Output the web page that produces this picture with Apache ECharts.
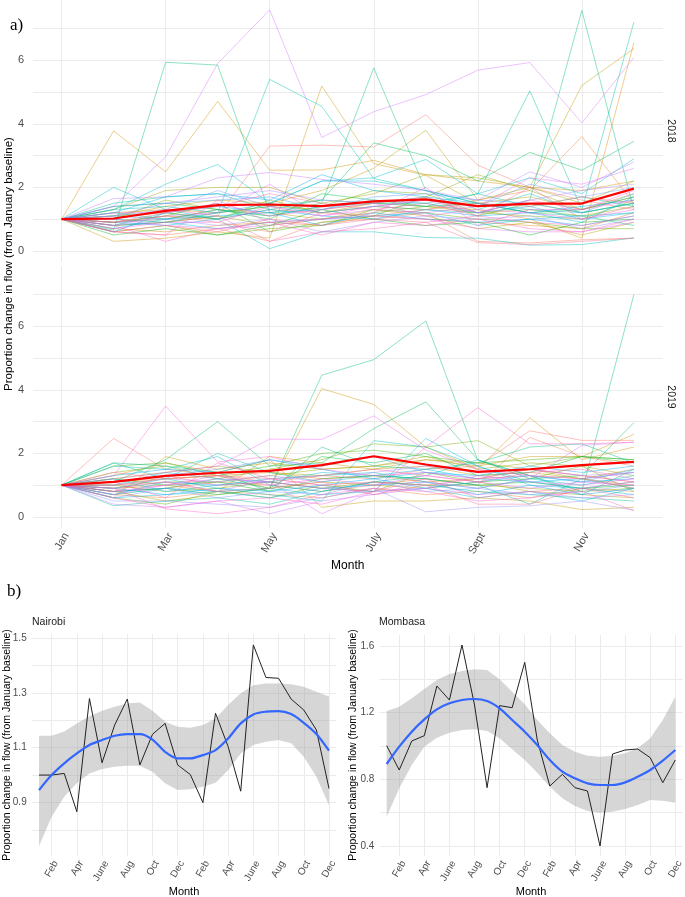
<!DOCTYPE html>
<html><head><meta charset="utf-8">
<script src="https://cdn.jsdelivr.net/npm/echarts@6/dist/echarts.min.js"></script>
<style>html,body{margin:0;padding:0;background:#fff}#c{width:685px;height:897px}</style>
</head><body><div id="c"></div>
<script>
// ---------- data ----------
const monthNames = ['Jan','Feb','Mar','Apr','May','June','July','Aug','Sept','Oct','Nov','Dec'];
const monthIndex = [1,2,3,4,5,6,7,8,9,10,11,12];
const monthTicksA = [1,3,5,7,9,11];
const yTicksA = [0,1,2,3,4,5,6,7];
const yLabelsA = [0,2,4,6];
const years = ['2018','2019'];

const mean2018 = [1.00,1.02,1.26,1.44,1.46,1.41,1.56,1.62,1.41,1.49,1.49,1.96];
const mean2019 = [1.00,1.10,1.29,1.39,1.45,1.63,1.91,1.65,1.42,1.50,1.63,1.73];

const flows2018 = [
 [1,0.8,0.9,1.1,3.3,3.33,3.27,4.29,2.7,2.0,1.6,1.3],
 [1,0.6,0.5,0.7,0.3,0.9,1.0,1.2,0.3,0.25,0.35,0.4],
 [1,0.9,1.1,1.0,1.3,1.2,1.4,1.3,1.6,1.9,3.6,1.5],
 [1,0.7,0.6,0.8,0.9,0.8,1.1,1.0,0.9,0.8,0.7,1.2],
 [1,1.2,1.3,1.2,1.4,1.3,1.5,1.4,1.3,1.0,0.4,6.55],
 [1,3.78,2.49,4.71,2.54,2.55,2.85,2.4,2.2,2.0,1.9,2.2],
 [1,0.3,0.4,0.6,0.4,5.19,2.75,2.38,1.5,1.7,1.3,1.8],
 [1,1.1,1.4,1.6,1.5,1.9,2.6,3.8,1.6,2.0,5.21,6.37],
 [1,0.9,1.0,1.3,1.2,1.0,1.3,1.1,0.7,0.9,0.5,0.9],
 [1,1.3,1.9,2.0,2.0,1.5,1.8,2.4,2.3,2.0,1.5,2.2],
 [1,1.1,1.2,1.0,1.6,1.2,1.5,1.7,2.4,1.9,1.3,1.7],
 [1,0.8,0.9,1.1,0.8,1.0,1.2,1.4,1.2,1.3,1.1,1.4],
 [1,1.0,1.6,1.3,1.1,1.4,1.9,1.8,1.2,1.1,1.0,1.6],
 [1,0.6,0.8,0.5,0.7,0.8,1.3,1.2,1.0,0.9,0.7,0.7],
 [1,0.9,1.1,1.5,0.6,0.9,1.1,1.7,1.1,1.5,1.2,1.5],
 [1,0.5,0.7,0.5,0.8,1.3,1.0,0.8,0.9,0.5,0.9,1.0],
 [1,1.4,1.5,1.3,1.0,1.8,1.6,1.4,1.5,1.2,1.3,1.7],
 [1,1.0,0.9,1.2,1.4,1.6,3.4,3.0,2.2,3.1,2.54,3.45],
 [1,0.65,5.94,5.85,1.2,1.5,5.76,1.9,1.5,1.2,1.1,0.8],
 [1,0.8,1.2,1.0,1.5,1.2,1.4,1.3,1.2,1.6,7.57,1.3],
 [1,1.5,1.7,1.8,1.3,1.6,1.5,1.5,1.8,1.4,1.7,1.4],
 [1,1.2,1.0,1.3,1.1,1.4,1.5,1.4,1.8,5.04,1.3,7.2],
 [1,1.3,1.4,1.2,5.4,4.55,2.28,1.9,1.3,1.8,1.2,1.5],
 [1,2.0,1.3,1.0,0.07,0.6,0.6,0.42,0.4,0.18,0.2,0.41],
 [1,1.3,2.1,2.72,1.5,2.2,2.3,2.88,1.8,2.3,1.8,2.9],
 [1,1.1,1.0,1.2,1.5,2.2,2.2,1.9,1.5,1.3,1.2,1.5],
 [1,0.8,0.9,0.7,0.9,1.0,1.1,1.2,0.8,1.0,1.1,1.2],
 [1,0.7,1.0,1.1,1.2,1.3,1.6,1.5,1.2,1.4,1.0,1.2],
 [1,1.2,1.7,1.8,1.6,2.4,1.9,1.7,1.5,1.2,0.9,1.7],
 [1,0.9,0.8,1.0,1.3,1.1,1.0,1.3,1.1,1.2,1.4,1.6],
 [1,0.6,1.2,1.4,1.2,0.8,1.2,1.0,0.9,1.0,0.8,1.1],
 [1,1.4,1.5,1.6,1.7,1.3,1.7,1.8,1.6,1.5,1.2,1.8],
 [1,1.1,1.3,1.9,1.4,1.2,1.4,1.6,1.4,2.1,1.7,2.0],
 [1,0.9,1.0,0.8,1.0,0.6,0.9,1.1,1.0,1.1,0.7,1.0],
 [1,1.1,1.5,1.7,1.9,1.6,1.5,1.7,1.2,1.6,1.9,2.1],
 [1,1.65,1.7,2.3,2.47,2.25,2.1,1.9,1.6,2.49,2.0,2.8],
 [1,1.4,2.96,5.9,7.59,3.57,4.38,4.92,5.69,5.93,4.03,6.09],
 [1,0.8,1.1,1.2,2.1,1.1,1.3,1.2,1.4,2.3,2.1,2.6],
 [1,1.0,0.8,0.7,0.8,1.0,1.1,1.0,0.7,0.6,0.6,0.9],
 [1,1.2,1.2,1.5,1.1,1.3,1.5,1.1,1.3,1.2,1.0,1.3],
 [1,0.7,0.9,0.9,1.4,1.1,1.4,1.6,1.2,1.6,1.3,1.6],
 [1,0.6,0.5,1.6,0.9,1.0,1.2,2.0,0.8,1.3,1.3,1.9],
 [1,0.8,0.3,0.7,0.9,0.5,0.9,0.8,1.0,0.7,0.6,1.0],
 [1,1.0,1.3,1.1,0.3,0.6,0.7,0.9,1.1,0.9,0.8,1.1],
 [1,0.9,1.2,1.4,1.8,1.5,1.3,1.5,1.1,2.0,1.0,1.4],
 [1,0.6,0.8,0.6,1.0,0.8,1.0,0.9,0.26,0.2,0.3,0.4],
 [1,0.9,1.1,0.9,0.6,1.2,1.1,1.3,1.5,1.4,1.7,1.5]
];

const flows2019 = [
 [1,2.47,1.5,1.3,1.1,1.3,1.2,1.5,1.6,2.71,2.41,2.41],
 [1,0.8,0.9,1.1,1.0,0.8,1.0,1.2,1.0,2.5,1.9,1.6],
 [1,0.7,0.6,0.8,0.7,0.6,0.9,0.7,0.8,0.6,0.9,0.8],
 [1,1.1,1.2,1.3,1.4,1.2,1.3,1.1,1.2,1.5,1.3,1.1],
 [1,0.9,1.0,0.8,1.9,1.7,1.5,1.6,1.3,1.4,1.2,1.0],
 [1,1.0,1.2,1.3,0.9,4.04,3.54,2.2,1.5,3.12,1.8,2.2],
 [1,0.6,1.9,1.5,1.7,1.5,1.6,1.8,1.6,1.9,1.9,2.6],
 [1,1.3,1.7,1.4,1.8,0.3,0.5,0.5,0.6,0.5,0.23,0.3],
 [1,0.8,0.5,0.7,0.9,1.1,1.0,0.9,1.1,0.8,0.7,0.6],
 [1,1.2,1.4,1.6,1.4,1.3,1.5,1.8,1.7,1.5,1.2,1.5],
 [1,0.9,1.1,1.1,1.3,1.5,1.6,1.9,1.5,1.7,1.6,1.3],
 [1,1.0,0.8,0.9,1.1,0.9,1.1,1.0,1.0,0.9,0.8,0.9],
 [1,1.4,1.6,1.2,1.5,1.8,2.3,2.2,2.4,1.6,1.9,1.8],
 [1,0.6,0.4,0.8,0.6,1.0,0.8,1.4,1.1,1.2,1.6,0.8],
 [1,1.6,1.7,1.3,1.6,2.0,2.1,1.9,1.7,1.8,1.9,1.7],
 [1,1.2,1.0,1.1,0.8,1.2,1.3,1.2,1.0,1.1,0.9,1.0],
 [1,0.8,0.9,0.7,0.9,1.9,1.7,2.0,1.3,1.4,1.9,1.8],
 [1,1.1,1.8,3.0,1.6,1.7,2.78,3.62,1.8,1.2,1.3,2.97],
 [1,0.7,0.9,1.2,0.9,4.46,4.95,6.17,1.78,1.3,0.8,7.0],
 [1,1.7,1.6,1.4,0.8,2.2,1.6,1.5,1.7,2.2,2.3,1.7],
 [1,0.35,0.5,0.6,0.4,0.8,1.1,1.0,0.8,0.7,0.6,0.5],
 [1,1.7,1.2,2.0,1.4,1.1,1.3,1.2,1.0,0.4,1.2,0.9],
 [1,1.6,1.5,1.9,1.0,0.8,1.1,1.3,1.8,1.3,0.7,1.5],
 [1,0.9,1.2,0.9,0.7,0.5,2.4,2.2,1.6,1.1,0.9,0.7],
 [1,1.2,0.8,1.0,1.2,1.3,1.4,1.1,0.9,1.2,1.0,1.3],
 [1,0.6,0.7,0.8,0.9,0.7,0.8,0.9,0.6,0.8,0.5,0.9],
 [1,1.0,1.4,1.2,1.1,1.4,1.3,1.5,1.2,1.1,1.2,1.4],
 [1,0.8,0.9,0.8,0.6,0.9,0.8,2.47,1.6,1.0,0.9,1.1],
 [1,1.3,1.5,1.4,1.8,1.5,1.2,1.4,1.3,1.6,1.4,1.6],
 [1,0.9,0.7,0.9,0.8,1.0,1.2,0.9,1.1,1.3,1.1,1.2],
 [1,0.7,1.1,1.0,1.1,0.9,1.0,1.1,0.7,1.0,0.7,0.9],
 [1,1.1,1.3,1.5,1.8,1.6,1.9,1.4,1.2,1.3,1.1,1.5],
 [1,0.6,0.9,0.6,0.8,0.7,1.1,0.8,0.9,0.7,0.8,1.0],
 [1,0.5,0.5,0.4,0.3,0.6,0.9,0.16,0.3,0.35,0.5,0.21],
 [1,1.0,1.2,1.1,1.3,1.1,1.4,1.6,1.4,1.5,1.3,1.4],
 [1,0.4,0.3,0.5,0.1,0.5,0.7,0.9,0.7,0.8,0.6,0.7],
 [1,0.9,1.1,0.8,1.2,1.0,0.7,1.1,0.9,1.2,2.25,2.35],
 [1,0.7,1.0,1.2,1.1,0.1,0.8,0.9,1.3,1.1,1.0,1.2],
 [1,1.2,1.4,1.6,2.45,2.44,3.18,2.1,1.5,1.3,1.2,1.4],
 [1,0.8,1.0,1.3,1.0,1.2,1.0,1.3,1.1,0.9,1.1,1.0],
 [1,1.3,3.49,1.73,1.9,1.5,1.3,1.4,1.2,1.5,1.3,1.1],
 [1,0.6,0.3,0.5,0.6,0.4,0.8,2.2,3.44,2.3,2.3,2.35],
 [1,0.9,0.25,0.1,0.3,0.7,0.9,0.8,0.5,0.6,0.8,0.2],
 [1,1.1,0.6,1.7,1.2,1.3,1.5,1.3,1.1,1.4,1.5,1.2],
 [1,0.8,1.3,1.0,1.1,0.9,0.8,1.2,0.6,0.8,0.9,1.1],
 [1,1.4,1.2,1.3,1.2,1.0,1.1,1.0,0.4,0.4,0.9,0.6],
 [1,1.0,1.1,0.8,0.9,1.1,0.7,1.0,1.2,1.3,1.2,0.9]
];

// panel b (Jan 2018 - Dec 2019), month position 0..23
const monthsB = monthNames.concat(monthNames);
const monthPosB = [0,1,2,3,4,5,6,7,8,9,10,11,12,13,14,15,16,17,18,19,20,21,22,23];
const monthTicksB = [1,3,5,7,9,11,13,15,17,19,21,23];
const nairobiFlow  = [1.00,1.00,1.006,0.866,1.28,1.045,1.183,1.278,1.037,1.149,1.189,1.037,1.002,0.899,1.226,1.104,0.941,1.476,1.357,1.354,1.278,1.238,1.165,0.951];
const nairobiFit   = [0.945,1.00,1.043,1.079,1.11,1.128,1.144,1.15,1.15,1.13,1.085,1.061,1.061,1.073,1.091,1.134,1.189,1.222,1.232,1.234,1.223,1.191,1.15,1.089];
const nairobiUpper = [1.144,1.144,1.159,1.189,1.215,1.235,1.25,1.262,1.265,1.235,1.195,1.177,1.173,1.183,1.207,1.256,1.299,1.329,1.335,1.335,1.332,1.323,1.305,1.287];
const nairobiLower = [0.741,0.848,0.921,0.97,1.006,1.022,1.03,1.034,1.034,1.012,0.97,0.945,0.948,0.957,0.972,1.018,1.079,1.11,1.122,1.128,1.116,1.067,0.994,0.89];
const mombasaFlow  = [1.002,0.856,1.03,1.062,1.36,1.276,1.606,1.246,0.75,1.242,1.23,1.502,1.036,0.76,0.83,0.75,0.73,0.40,0.952,0.976,0.982,0.93,0.78,0.916];
const mombasaFit   = [0.892,0.996,1.086,1.16,1.22,1.256,1.276,1.282,1.27,1.226,1.156,1.086,1.006,0.916,0.846,0.806,0.776,0.766,0.766,0.782,0.816,0.856,0.912,0.976];
const mombasaUpper = [1.21,1.236,1.286,1.342,1.396,1.432,1.45,1.46,1.456,1.40,1.326,1.25,1.156,1.076,1.006,0.966,0.942,0.936,0.942,0.956,0.986,1.046,1.156,1.296];
const mombasaLower = [0.576,0.746,0.886,0.996,1.05,1.08,1.096,1.10,1.09,1.046,0.98,0.916,0.84,0.756,0.686,0.64,0.61,0.60,0.606,0.622,0.646,0.676,0.672,0.66];
const nairobiTicks  = [0.8,0.9,1.0,1.1,1.2,1.3,1.4,1.5];
const nairobiLabels = [0.9,1.1,1.3,1.5];
const mombasaTicks  = [0.4,0.6,0.8,1.0,1.2,1.4,1.6];
const mombasaLabels = [0.4,0.8,1.2,1.6];

const yTitle = 'Proportion change in flow (from January baseline)';

// ---------- styling helpers ----------
function hcl(h, c, l) {
  const hr = h * Math.PI / 180;
  const u = c * Math.cos(hr), v = c * Math.sin(hr);
  const Xn = 95.047, Yn = 100, Zn = 108.883;
  const d = Xn + 15 * Yn + 3 * Zn;
  const un = 4 * Xn / d, vn = 9 * Yn / d;
  const Y = Yn * Math.pow((l + 16) / 116, 3);
  const up = u / (13 * l) + un, vp = v / (13 * l) + vn;
  const X = Y * 9 * up / (4 * vp);
  const Z = Y * (12 - 3 * up - 20 * vp) / (4 * vp);
  const x = X / 100, y = Y / 100, z = Z / 100;
  const r = 3.2404542 * x - 1.5371385 * y - 0.4985314 * z;
  const g = -0.9692660 * x + 1.8760108 * y + 0.0415560 * z;
  const b = 0.0556434 * x - 0.2040259 * y + 1.0572252 * z;
  const gam = t => { t = t <= 0.0031308 ? 12.92 * t : 1.055 * Math.pow(t, 1 / 2.4) - 0.055; return Math.round(Math.max(0, Math.min(1, t)) * 255); };
  return 'rgb(' + gam(r) + ',' + gam(g) + ',' + gam(b) + ')';
}
const FONT = 'Liberation Sans, Arial, sans-serif';
const GRID = '#ebebeb';
const TICKTXT = '#4d4d4d';

// ---------- build ----------
const grids = [
  { left: 33, top: 0, width: 629.5, height: 262 },
  { left: 33, top: 266, width: 629.5, height: 262 },
  { left: 31.7, top: 634, width: 304.6, height: 222 },
  { left: 379.4, top: 635, width: 303.2, height: 221 }
];
grids.forEach(g => { g.containLabel = false; g.outerBoundsMode = 'none'; });

const xAxes = [], yAxes = [];
[0, 1].forEach(g => {
  xAxes.push({
    gridIndex: g, type: 'value', min: 0.45, max: 12.55,
    axisLine: { show: false },
    axisTick: { show: false, customValues: monthTicksA },
    axisLabel: { show: g === 1, customValues: monthTicksA, rotate: 60, margin: 3, verticalAlign: 'top',
      formatter: v => monthNames[v - 1], color: TICKTXT, fontSize: 11, fontFamily: FONT },
    splitLine: { show: true, lineStyle: { color: GRID, width: 1 } },
    name: g === 1 ? 'Month' : '', nameLocation: 'middle', nameGap: 32,
    nameTextStyle: { fontSize: 12, color: '#000', fontFamily: FONT }
  });
  yAxes.push({
    gridIndex: g, type: 'value', min: -0.35, max: 7.9,
    axisLine: { show: false },
    axisTick: { show: false, customValues: yTicksA },
    axisLabel: { customValues: yLabelsA, color: TICKTXT, fontSize: 11, fontFamily: FONT, margin: 9 },
    splitLine: { show: true, lineStyle: { color: GRID, width: 1 } }
  });
});
[2, 3].forEach(g => {
  xAxes.push({
    gridIndex: g, type: 'value', min: -0.58, max: 23.58,
    axisLine: { show: false },
    axisTick: { show: false, customValues: monthTicksB },
    axisLabel: { customValues: monthTicksB, formatter: v => monthsB[v], rotate: 60, margin: 3, verticalAlign: 'top',
      color: TICKTXT, fontSize: 10, fontFamily: FONT },
    splitLine: { show: true, lineStyle: { color: GRID, width: 1 } },
    name: 'Month', nameLocation: 'middle', nameGap: 30,
    nameTextStyle: { fontSize: 11, color: '#000', fontFamily: FONT }
  });
});
yAxes.push({
  gridIndex: 2, type: 'value', min: 0.704, max: 1.516,
  axisLine: { show: false },
  axisTick: { show: false, customValues: nairobiTicks },
  axisLabel: { customValues: nairobiLabels, formatter: v => v.toFixed(1), color: TICKTXT, fontSize: 10, fontFamily: FONT, margin: 5 },
  splitLine: { show: true, lineStyle: { color: GRID, width: 1 } }
});
yAxes.push({
  gridIndex: 3, type: 'value', min: 0.34, max: 1.666,
  axisLine: { show: false },
  axisTick: { show: false, customValues: mombasaTicks },
  axisLabel: { customValues: mombasaLabels, formatter: v => v.toFixed(1), color: TICKTXT, fontSize: 10, fontFamily: FONT, margin: 5 },
  splitLine: { show: true, lineStyle: { color: GRID, width: 1 } }
});

const series = [];
[flows2018, flows2019].forEach((rows, g) => {
  const n = rows.length;
  rows.forEach((row, i) => {
    series.push({
      type: 'line', xAxisIndex: g, yAxisIndex: g, silent: true, symbol: 'none', z: 2,
      data: row.map((v, j) => [monthIndex[j], v]),
      lineStyle: { width: 0.75, color: hcl(15 + 360 * i / n, 100, 65), opacity: 0.6 }
    });
  });
  const mean = g === 0 ? mean2018 : mean2019;
  series.push({
    type: 'line', xAxisIndex: g, yAxisIndex: g, silent: true, symbol: 'none', z: 5,
    data: mean.map((v, j) => [monthIndex[j], v]),
    lineStyle: { width: 2.2, color: '#ff0000' }
  });
});

function cityPanel(g, flow, fit, lower, upper) {
  // confidence band as one polygon, positioned through the axes' scales
  series.push({
    type: 'custom', xAxisIndex: g, yAxisIndex: g, silent: true, z: 1,
    data: [[monthPosB[0], lower[0]]],
    renderItem: (params, api) => {
      const top = upper.map((u, i) => api.coord([monthPosB[i], u]));
      const bot = lower.map((l, i) => api.coord([monthPosB[i], l])).reverse();
      return { type: 'polygon', shape: { points: top.concat(bot) },
        style: { fill: 'rgba(153,153,153,0.4)' } };
    }
  });
  series.push({
    type: 'line', xAxisIndex: g, yAxisIndex: g, silent: true, symbol: 'none', z: 3,
    data: flow.map((v, i) => [monthPosB[i], v]), lineStyle: { width: 1, color: '#222222' }
  });
  series.push({
    type: 'line', xAxisIndex: g, yAxisIndex: g, silent: true, symbol: 'none', smooth: 0.3, z: 4,
    data: fit.map((v, i) => [monthPosB[i], v]), lineStyle: { width: 2.2, color: '#3366ff' }
  });
}
cityPanel(2, nairobiFlow, nairobiFit, nairobiLower, nairobiUpper);
cityPanel(3, mombasaFlow, mombasaFit, mombasaLower, mombasaUpper);

const option = {
  animation: false,
  backgroundColor: '#ffffff',
  title: [
    { text: 'a)', left: 10, top: 17, padding: 0, textStyle: { fontFamily: 'Liberation Serif, Times New Roman, serif', fontSize: 17, fontWeight: 'normal', color: '#000' } },
    { text: 'b)', left: 7, top: 583, padding: 0, textStyle: { fontFamily: 'Liberation Serif, Times New Roman, serif', fontSize: 17, fontWeight: 'normal', color: '#000' } },
    { text: 'Nairobi', left: 32, top: 617, padding: 0, textStyle: { fontFamily: FONT, fontSize: 10.5, fontWeight: 'normal', color: '#1a1a1a' } },
    { text: 'Mombasa', left: 379, top: 617, padding: 0, textStyle: { fontFamily: FONT, fontSize: 10.5, fontWeight: 'normal', color: '#1a1a1a' } }
  ],
  grid: grids,
  xAxis: xAxes,
  yAxis: yAxes,
  series: series,
  graphic: [
    { type: 'text', x: 9, y: 264, rotation: Math.PI / 2, silent: true,
      style: { text: yTitle, font: '11.5px ' + FONT, fill: '#000', align: 'center', verticalAlign: 'middle' } },
    { type: 'text', x: 671, y: 131, rotation: -Math.PI / 2, silent: true,
      style: { text: years[0], font: '10.5px ' + FONT, fill: '#1a1a1a', align: 'center', verticalAlign: 'middle' } },
    { type: 'text', x: 671, y: 397, rotation: -Math.PI / 2, silent: true,
      style: { text: years[1], font: '10.5px ' + FONT, fill: '#1a1a1a', align: 'center', verticalAlign: 'middle' } },
    { type: 'text', x: 7, y: 745, rotation: Math.PI / 2, silent: true,
      style: { text: yTitle, font: '10.5px ' + FONT, fill: '#000', align: 'center', verticalAlign: 'middle' } },
    { type: 'text', x: 353, y: 745, rotation: Math.PI / 2, silent: true,
      style: { text: yTitle, font: '10.5px ' + FONT, fill: '#000', align: 'center', verticalAlign: 'middle' } }
  ]
};
const chart = echarts.init(document.getElementById('c'), null, { renderer: 'canvas' });
chart.setOption(option);
</script></body></html>
